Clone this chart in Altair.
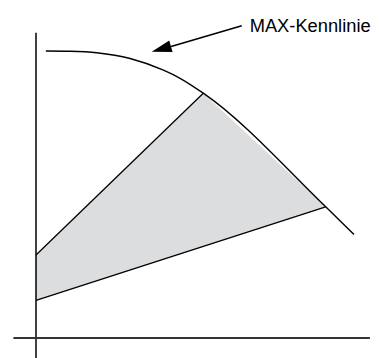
import altair as alt
import pandas as pd

# MAX characteristic curve (x = flow, y = head, 0..100 scale)
curve_x = [3.1, 10.7, 19.1, 29.6, 39.9, 45.3, 52.6, 91.1, 100.0]
curve_y = [100.0, 99.9, 99.4, 97.4, 93.4, 90.5, 85.3, 45.7, 36.1]

# shaded operating range
area_x = [0.0, 52.6, 91.1]
area_top = [28.9, 85.3, 45.7]
area_bottom = [13.1, 31.9, 45.7]

# boundary lines of the shaded range
upper_x = [0.0, 52.6]
upper_y = [28.9, 85.3]
lower_x = [0.0, 91.1]
lower_y = [13.1, 45.7]

# axes extents
vaxis_y = [-7.0, 106.4]
haxis_x = [-7.1, 105.0]

# annotation
label_text = "MAX-Kennlinie"
label_pos = (67.2, 106.5)
arrow_x = [64.7, 42.5]
arrow_y = [108.8, 101.6]
head_pos = (39.4, 100.7)
head_angle = 254

xs = alt.Scale(domain=[0, 100], range=[28, 346], nice=False, zero=False)
ys = alt.Scale(domain=[0, 100], range=[330, 43], nice=False, zero=False)

def X(f="x"):
    return alt.X(f"{f}:Q", scale=xs, axis=None)

def Y(f="y"):
    return alt.Y(f"{f}:Q", scale=ys, axis=None)

area = alt.Chart(pd.DataFrame({"x": area_x, "y": area_top, "y2": area_bottom})).mark_area(
    color="#dcdddf", opacity=1
).encode(x=X(), y=Y(), y2="y2:Q")

upper = alt.Chart(pd.DataFrame({"x": upper_x, "y": upper_y})).mark_line(
    color="black", strokeWidth=1.3
).encode(x=X(), y=Y())

lower = alt.Chart(pd.DataFrame({"x": lower_x, "y": lower_y})).mark_line(
    color="black", strokeWidth=1.3
).encode(x=X(), y=Y())

curve = alt.Chart(pd.DataFrame({"x": curve_x, "y": curve_y})).mark_line(
    color="black", strokeWidth=1.4, interpolate="monotone"
).encode(x=X(), y=Y())

vaxis = alt.Chart(pd.DataFrame({"x": [0.0, 0.0], "y": vaxis_y})).mark_line(
    color="black", strokeWidth=1.5
).encode(x=X(), y=Y())

haxis = alt.Chart(pd.DataFrame({"x": haxis_x, "y": [0.0, 0.0]})).mark_line(
    color="#333333", strokeWidth=2
).encode(x=X(), y=Y())

arrow = alt.Chart(pd.DataFrame({"x": arrow_x, "y": arrow_y})).mark_line(
    color="black", strokeWidth=1.6
).encode(x=X(), y=Y())

head = alt.Chart(pd.DataFrame({"x": [head_pos[0]], "y": [head_pos[1]]})).mark_point(
    shape="M0,-1L0.6,1L-0.6,1Z", size=400, filled=True, color="black",
    opacity=1, angle=head_angle, strokeWidth=0
).encode(x=X(), y=Y())

label = alt.Chart(pd.DataFrame({"x": [label_pos[0]], "y": [label_pos[1]], "t": [label_text]})).mark_text(
    font="Liberation Sans", fontSize=18.3, align="left", baseline="alphabetic", color="black"
).encode(x=X(), y=Y(), text="t:N")

chart = alt.layer(area, upper, lower, curve, vaxis, haxis, arrow, head, label).properties(
    width=363, height=342,
    autosize=alt.AutoSizeParams(type="none"),
    padding={"left": 0, "top": 0, "right": 0, "bottom": 8},
).configure_view(stroke=None)

chart.save("out.html", embed_options={"renderer": "svg", "actions": False})
